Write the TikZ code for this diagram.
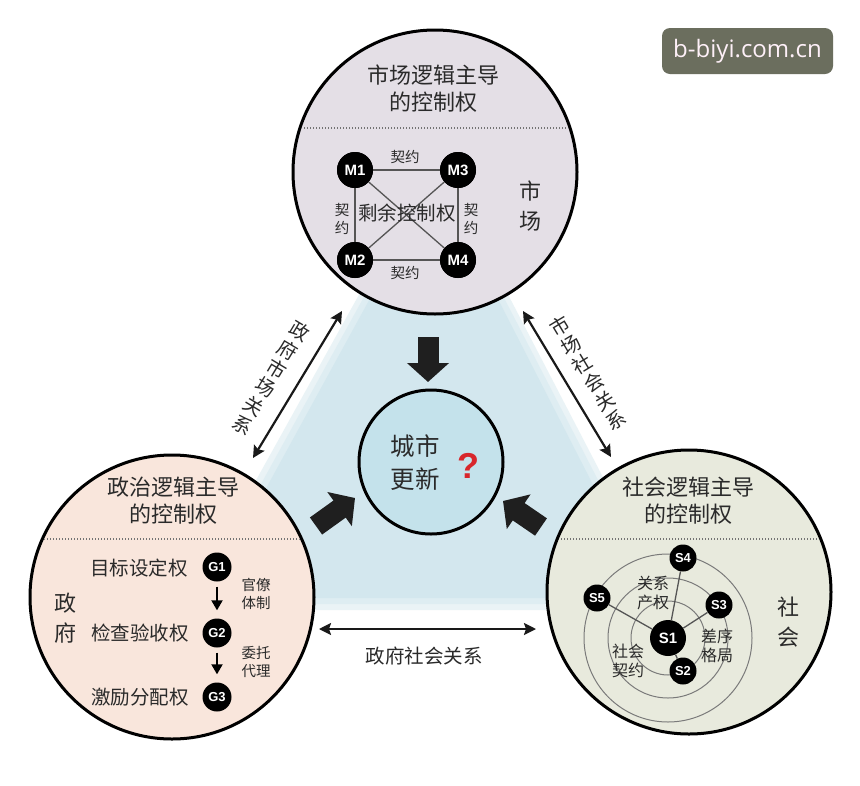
\documentclass[tikz,border=0pt]{standalone}
\usepackage{fontspec}
\setmainfont{Noto Sans CJK SC}
\newfontfamily\lat{Liberation Sans}
\newfontfamily\wmfont{Open Sans}
\usetikzlibrary{arrows.meta}
\definecolor{topc}{HTML}{E4DFE6}
\definecolor{leftc}{HTML}{F9E6DC}
\definecolor{rightc}{HTML}{E8EADD}
\definecolor{cenc}{HTML}{C4E2EB}
\definecolor{trio}{HTML}{EAF3F6}
\definecolor{trim}{HTML}{DEEDF2}
\definecolor{trii}{HTML}{D3E7EE}
\definecolor{wm}{HTML}{6B6E5E}
\definecolor{qred}{HTML}{D8262B}
\definecolor{edgeg}{HTML}{555555}
\definecolor{ringg}{HTML}{7A7A7A}
\definecolor{txt}{HTML}{2A2A2A}
\tikzset{
  bigc/.style={circle, draw=black, line width=3pt, minimum size=284pt, inner sep=0pt},
  cenball/.style={circle, draw=black, line width=3pt, minimum size=144pt, inner sep=0pt, fill=cenc},
  dotline/.style={draw=black!55, line width=1.1pt, dash pattern=on 1.1pt off 1.9pt},
  mball/.style={circle, fill=black, text=white, minimum size=36pt, inner sep=0pt, font=\lat\bfseries\fontsize{15}{15}\selectfont},
  gball/.style={circle, fill=black, text=white, minimum size=29pt, inner sep=0pt, font=\lat\bfseries\fontsize{13}{13}\selectfont},
  sball/.style={circle, fill=black, text=white, minimum size=27pt, inner sep=0pt, font=\lat\bfseries\fontsize{13}{13}\selectfont},
  sbig/.style={circle, fill=black, text=white, minimum size=36pt, inner sep=0pt, font=\lat\bfseries\fontsize{15}{15}\selectfont},
  edge/.style={draw=edgeg, line width=1.3pt},
  ring/.style={draw=ringg, line width=1pt},
  title/.style={align=center, inner sep=0pt, text=txt, font=\fontsize{22}{27}\selectfont},
  side/.style={align=center, inner sep=0pt, text=txt, font=\fontsize{22}{30}\selectfont},
  mid/.style={align=center, inner sep=0pt, text=txt, font=\fontsize{19.5}{24}\selectfont},
  small/.style={align=center, inner sep=0pt, text=txt, font=\fontsize{14.5}{18}\selectfont},
  smid/.style={align=center, inner sep=0pt, text=txt, font=\fontsize{16}{19}\selectfont},
  rel/.style={align=center, inner sep=0pt, text=txt, font=\fontsize{19.5}{22}\selectfont},
  blockarrow/.style={draw=black!88, line width=21pt, -{Triangle[length=19pt,width=41pt]}},
  dbl/.style={draw=black!90, line width=2.2pt, {Stealth[length=12pt,width=12pt,inset=2pt]}-{Stealth[length=12pt,width=12pt,inset=2pt]}},
  garrow/.style={draw=black, line width=2pt, -{Triangle[length=10pt,width=11pt]}},
}
\begin{document}
\begin{tikzpicture}[x=1pt,y=-1pt]
\useasboundingbox (0,0) rectangle (860,785);
\fill[white] (0,0) rectangle (860,785);

% background triangle (soft edge)
\fill[trio] (436,156) -- (184,610) -- (672,610) -- cycle;
\fill[trim] (436,166) -- (195,604) -- (662,604) -- cycle;
\fill[trii] (436,178) -- (206,598) -- (651,598) -- cycle;

% big circles
\node[bigc, fill=topc] (mkt) at (435,172) {};
\node[bigc, fill=leftc] (gov) at (172,597) {};
\node[bigc, fill=rightc] (soc) at (689,592) {};

% dotted separators
\begin{scope}
  \clip (435,172) circle[radius=140pt];
  \draw[dotline] (280,128) -- (600,128);
\end{scope}
\begin{scope}
  \clip (172,597) circle[radius=140pt];
  \draw[dotline] (20,539) -- (330,539);
\end{scope}
\begin{scope}
  \clip (689,592) circle[radius=140pt];
  \draw[dotline] (540,539) -- (840,539);
\end{scope}

% ---------- market circle ----------
\node[title] (mt) at (433,89) {市场逻辑主导\\的控制权};
\node[mball] (m1) at (355,170) {M1};
\node[mball] (m3) at (458,170) {M3};
\node[mball] (m2) at (355,260) {M2};
\node[mball] (m4) at (458,260) {M4};
\draw[edge] (m1) -- (m3);
\draw[edge] (m2) -- (m4);
\draw[edge] (m1) -- (m2);
\draw[edge] (m3) -- (m4);
\draw[edge] (m1) -- (m4);
\draw[edge] (m3) -- (m2);
\node[mball] at (m1) {M1};
\node[mball] at (m3) {M3};
\node[mball] at (m2) {M2};
\node[mball] at (m4) {M4};
\node[small] (c1) at (405,157) {契约};
\node[small] (c2) at (405,273) {契约};
\node[small] (c3) at (342,219) {契\\约};
\node[small] (c4) at (471,219) {契\\约};
\node[mid] (scr) at (407,213) {剩余控制权};
\node[side] (mk) at (530,206) {市\\场};

% ---------- government circle ----------
\node[title] (gt) at (173,501) {政治逻辑主导\\的控制权};
\node[gball] (g1) at (217,567) {G1};
\node[gball] (g2) at (217,633) {G2};
\node[gball] (g3) at (217,697) {G3};
\draw[garrow, shorten <=5pt, shorten >=8pt] (g1) -- (g2);
\draw[garrow, shorten <=5pt, shorten >=8pt] (g2) -- (g3);
\node[mid] (gl1) at (139,568) {目标设定权};
\node[mid] (gl2) at (140,633) {检查验收权};
\node[mid] (gl3) at (140,697) {激励分配权};
\node[small] (gb) at (256,594) {官僚\\体制};
\node[small] (gw) at (256,662) {委托\\代理};
\node[side] (gf) at (65,618) {政\\府};

% ---------- society circle ----------
\node[title] (st) at (688,501) {社会逻辑主导\\的控制权};
\draw[ring] (668,638) circle[radius=84pt];
\draw[ring] (668,638) circle[radius=60pt];
\draw[ring] (668,638) circle[radius=37pt];
\node[sbig] (s1) at (668,638) {S1};
\node[sball] (s2) at (683,671) {S2};
\node[sball] (s3) at (719,605) {S3};
\node[sball] (s4) at (683,558) {S4};
\node[sball] (s5) at (597,598) {S5};
\draw[edge] (s1) -- (s2);
\draw[edge] (s1) -- (s3);
\draw[edge] (s1) -- (s4);
\draw[edge] (s1) -- (s5);
\node[smid] (sa) at (653,593) {关系\\产权};
\node[smid] (sb) at (717,646) {差序\\格局};
\node[smid] (sc) at (628,661) {社会\\契约};
\node[side] (sf) at (788,622) {社\\会};

% ---------- centre ----------
\node[cenball] (urb) at (431,462) {};
\node[align=center, inner sep=0pt, text=txt, font=\fontsize{24.5}{33}\selectfont] (ut) at (415,463) {城市\\更新};
\node[inner sep=0pt, text=qred, font=\lat\bfseries\fontsize{36}{36}\selectfont] (q) at (468,466) {?};

% block arrows
\coordinate (ta) at (428,337);
\coordinate (tb) at (428,382);
\coordinate (la) at (316,526);
\coordinate (lb) at (355,498);
\coordinate (ra) at (541,527);
\coordinate (rb) at (503,501);
\draw[blockarrow] (ta) -- (tb);
\draw[blockarrow] (la) -- (lb);
\draw[blockarrow] (ra) -- (rb);

% relation arrows
\coordinate (gm1) at (342,311);
\coordinate (gm2) at (253,458);
\coordinate (ms1) at (523,311);
\coordinate (ms2) at (611,457);
\coordinate (gs1) at (319,629);
\coordinate (gs2) at (536,629);
\draw[dbl] (gm1) -- (gm2);
\draw[dbl] (ms1) -- (ms2);
\draw[dbl] (gs1) -- (gs2);
\node[rel, rotate=-31] (lgm) at (271,378) {政\\府\\市\\场\\关\\系};
\node[rel, rotate=31] (lms) at (588,373) {市\\场\\社\\会\\关\\系};
\node[rel] (lgs) at (424,656) {政府社会关系};

% watermark
\node[fill=wm, rounded corners=8pt, minimum width=171pt, minimum height=46pt, inner sep=0pt,
      text=white!94!magenta, font=\wmfont\fontsize{24}{24}\selectfont] (wmk) at (747.5,51) {b-biyi.com.cn};
\end{tikzpicture}
\end{document}
